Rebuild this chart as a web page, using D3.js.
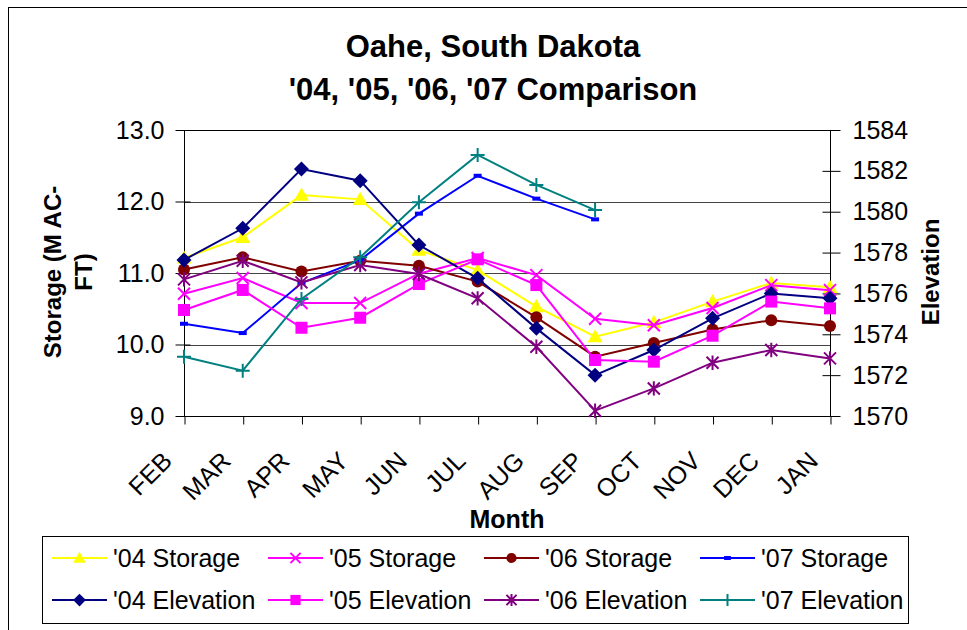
<!DOCTYPE html>
<html>
<head>
<meta charset="utf-8">
<script src="https://cdn.jsdelivr.net/npm/d3@7"></script>
<style>
  html, body { margin: 0; padding: 0; background: #fff; }
  svg { display: block; font-family: "Liberation Sans", Arial, sans-serif; }
</style>
</head>
<body>
<svg id="chart" width="967" height="630"></svg>
<script>
const months = ["FEB","MAR","APR","MAY","JUN","JUL","AUG","SEP","OCT","NOV","DEC","JAN"];
const storage04 = [11.21, 11.50, 12.09, 12.03, 11.32, 11.04, 10.53, 10.11, 10.31, 10.60, 10.86, 10.80];
const storage05 = [10.71, 10.93, 10.58, 10.58, 10.99, 11.21, 10.97, 10.36, 10.27, 10.51, 10.83, 10.76];
const storage06 = [11.05, 11.22, 11.02, 11.17, 11.10, 10.88, 10.38, 9.83, 10.02, 10.21, 10.34, 10.26];
const storage07 = [10.29, 10.16, 10.86, 11.18, 11.83, 12.36, 12.04, 11.75];
const elevation04 = [1577.64, 1579.19, 1582.09, 1581.52, 1578.37, 1576.74, 1574.29, 1572.00, 1573.23, 1574.78, 1576.00, 1575.76];
const elevation05 = [1575.19, 1576.17, 1574.32, 1574.81, 1576.46, 1577.67, 1576.41, 1572.74, 1572.66, 1573.93, 1575.60, 1575.27];
const elevation06 = [1576.69, 1577.60, 1576.54, 1577.39, 1576.95, 1575.76, 1573.39, 1570.26, 1571.35, 1572.61, 1573.23, 1572.82];
const elevation07 = [1572.90, 1572.22, 1575.73, 1577.77, 1580.46, 1582.78, 1581.31, 1580.08];
const storageTicks = [9, 10, 11, 12, 13];
const elevationTicks = [1570, 1572, 1574, 1576, 1578, 1580, 1582, 1584];

const series = [
  {name: "'04 Storage",   values: storage04,   axis: "L", color: "#FFFF00", marker: "triangle"},
  {name: "'05 Storage",   values: storage05,   axis: "L", color: "#FF00FF", marker: "x"},
  {name: "'06 Storage",   values: storage06,   axis: "L", color: "#800000", marker: "circle"},
  {name: "'07 Storage",   values: storage07,   axis: "L", color: "#0000FF", marker: "dash"},
  {name: "'04 Elevation", values: elevation04, axis: "R", color: "#000080", marker: "diamond"},
  {name: "'05 Elevation", values: elevation05, axis: "R", color: "#FF00FF", marker: "square"},
  {name: "'06 Elevation", values: elevation06, axis: "R", color: "#800080", marker: "star"},
  {name: "'07 Elevation", values: elevation07, axis: "R", color: "#008080", marker: "plus"}
];

(function () {
const svg = d3.select("#chart");
const FONT = "'Liberation Sans', Arial, sans-serif";

// outer chart border
svg.append("rect").attr("x", 8.5).attr("y", 7.5).attr("width", 1000).attr("height", 700)
  .attr("fill", "none").attr("stroke", "#000").attr("stroke-width", 1);

const pLeft = 184, pRight = 830, pTop = 130, pBottom = 416;

const x = d3.scalePoint().domain(months).range([pLeft, pRight]).padding(0);
const yL = d3.scaleLinear().domain([9, 13]).range([pBottom, pTop]);
const yR = d3.scaleLinear().domain([1570, 1584]).range([pBottom, pTop]);

// gridlines
svg.append("g").selectAll("line").data(storageTicks.filter(d => d > 9)).join("line")
  .attr("x1", pLeft).attr("x2", pRight)
  .attr("y1", d => Math.round(yL(d)) + 0.5).attr("y2", d => Math.round(yL(d)) + 0.5)
  .attr("stroke", d => d === 13 ? "#000" : "#444").attr("stroke-width", 1);

// left axis
const gL = svg.append("g").attr("transform", `translate(${pLeft + 0.5},0)`)
  .call(d3.axisLeft(yL).tickValues(storageTicks).tickFormat(d3.format(".1f")).tickSize(9).tickPadding(11));
gL.selectAll(".tick line").attr("x2", -9).attr("x1", 6).attr("stroke", "#000");
gL.select(".domain").attr("stroke", "#000").attr("d", `M0,${pTop}V${pBottom}`);
gL.selectAll("text").attr("font-size", 25).attr("font-family", FONT).attr("fill", "#000");

// right axis
const gR = svg.append("g").attr("transform", `translate(${pRight + 0.5},0)`)
  .call(d3.axisRight(yR).tickValues(elevationTicks).tickFormat(d3.format("d")).tickSize(10).tickPadding(12));
gR.selectAll(".tick line").attr("x1", -8).attr("x2", 10).attr("stroke", "#000");
gR.select(".domain").attr("stroke", "#000").attr("d", `M0,${pTop}V${pBottom}`);
gR.selectAll("text").attr("font-size", 25).attr("font-family", FONT).attr("fill", "#000");

// bottom axis
const gB = svg.append("g").attr("transform", `translate(0,${pBottom + 0.5})`)
  .call(d3.axisBottom(x).tickSize(8).tickSizeOuter(0));
gB.select(".domain").attr("stroke", "#000").attr("d", `M${pLeft},0H${pRight + 1}`);
gB.selectAll(".tick line").attr("stroke", "#000").attr("transform", "translate(0.5,0)");
gB.selectAll("text")
  .attr("font-size", 25).attr("font-family", FONT).attr("fill", "#000")
  .attr("text-anchor", "end").attr("dy", null).attr("y", null)
  .attr("transform", "translate(-11,46) rotate(-45)");

// axis titles
svg.append("text").attr("x", (pLeft + pRight) / 2).attr("y", 528)
  .attr("text-anchor", "middle").attr("font-size", 25).attr("font-weight", "bold")
  .attr("font-family", FONT).text("Month");

const yTitle = svg.append("text").attr("transform", "translate(61,272) rotate(-90)")
  .attr("text-anchor", "middle").attr("font-size", 24).attr("font-weight", "bold").attr("font-family", FONT);
yTitle.append("tspan").attr("x", 0).attr("y", 0).text("Storage (M AC-");
yTitle.append("tspan").attr("x", 0).attr("y", 31).text("FT)");

svg.append("text").attr("transform", "translate(939,272) rotate(-90)")
  .attr("text-anchor", "middle").attr("font-size", 24).attr("font-weight", "bold")
  .attr("font-family", FONT).text("Elevation");

// chart title
svg.append("text").attr("x", 493).attr("y", 57).attr("text-anchor", "middle")
  .attr("font-size", 31).attr("font-weight", "bold").attr("font-family", FONT)
  .text("Oahe, South Dakota");
svg.append("text").attr("x", 493).attr("y", 100).attr("text-anchor", "middle")
  .attr("font-size", 31).attr("font-weight", "bold").attr("font-family", FONT)
  .text("'04, '05, '06, '07 Comparison");

// markers
function drawMarker(g, type, color, cx, cy, scale) {
  const s = scale || 1;
  if (type === "triangle") {
    const r = 7.5 * s;
    g.append("path").attr("d", `M${cx},${cy - r}L${cx + r},${cy + r * 0.75}L${cx - r},${cy + r * 0.75}Z`).attr("fill", color);
  } else if (type === "diamond") {
    const r = 7.5 * s;
    g.append("path").attr("d", `M${cx},${cy - r}L${cx + r},${cy}L${cx},${cy + r}L${cx - r},${cy}Z`).attr("fill", color);
  } else if (type === "square") {
    const r = 6 * s;
    g.append("rect").attr("x", cx - r).attr("y", cy - r).attr("width", 2 * r).attr("height", 2 * r).attr("fill", color);
  } else if (type === "circle") {
    g.append("circle").attr("cx", cx).attr("cy", cy).attr("r", 6 * s).attr("fill", color);
  } else if (type === "x") {
    const r = 6 * s;
    g.append("path").attr("d", `M${cx - r},${cy - r}L${cx + r},${cy + r}M${cx - r},${cy + r}L${cx + r},${cy - r}`)
      .attr("stroke", color).attr("stroke-width", 2).attr("fill", "none");
  } else if (type === "star") {
    const r = 6 * s;
    g.append("path").attr("d", `M${cx - r},${cy - r}L${cx + r},${cy + r}M${cx - r},${cy + r}L${cx + r},${cy - r}M${cx},${cy - r * 1.2}L${cx},${cy + r * 1.2}`)
      .attr("stroke", color).attr("stroke-width", 2).attr("fill", "none");
  } else if (type === "plus") {
    const r = 7 * s;
    g.append("path").attr("d", `M${cx - r},${cy}L${cx + r},${cy}M${cx},${cy - r}L${cx},${cy + r}`)
      .attr("stroke", color).attr("stroke-width", 2).attr("fill", "none");
  } else if (type === "dash") {
    g.append("rect").attr("x", cx - 4 * s).attr("y", cy - 2).attr("width", 8 * s).attr("height", 4).attr("fill", color);
  }
}

const plot = svg.append("g");
series.forEach(s => {
  const yS = s.axis === "L" ? yL : yR;
  const pts = s.values.map((v, i) => [x(months[i]), yS(v)]);
  plot.append("path").attr("d", d3.line()(pts)).attr("fill", "none")
    .attr("stroke", s.color).attr("stroke-width", 2).attr("stroke-linejoin", "miter");
  const mg = plot.append("g");
  pts.forEach(p => drawMarker(mg, s.marker, s.color, p[0], p[1], 1));
});

// legend
const lg = svg.append("g");
lg.append("rect").attr("x", 42.5).attr("y", 536.5).attr("width", 866).attr("height", 87)
  .attr("fill", "#fff").attr("stroke", "#000").attr("stroke-width", 1);
const colX = [52, 268, 484, 700];
const rowY = [558, 600];
series.forEach((s, i) => {
  const col = i % 4, row = Math.floor(i / 4);
  const lx = colX[col], ly = rowY[row];
  lg.append("line").attr("x1", lx).attr("x2", lx + 55).attr("y1", ly).attr("y2", ly)
    .attr("stroke", s.color).attr("stroke-width", 2);
  drawMarker(lg, s.marker, s.color, lx + 27.5, ly, 0.85);
  lg.append("text").attr("x", lx + 61).attr("y", ly + 9).attr("font-size", 25)
    .attr("font-family", FONT).attr("fill", "#000").text(s.name);
});
})();
</script>
</body>
</html>
